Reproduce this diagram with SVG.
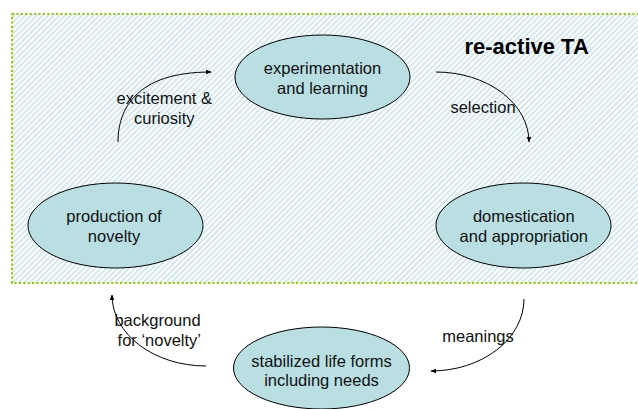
<svg xmlns="http://www.w3.org/2000/svg" width="638" height="409" viewBox="0 0 638 409">
  <defs>
    <pattern id="hatch" patternUnits="userSpaceOnUse" width="4" height="4" patternTransform="rotate(45)">
      <line x1="1" y1="0" x2="1" y2="4" stroke="#c8e3ea" stroke-width="1.6"/>
    </pattern>
    <marker id="arr" viewBox="0 0 10 10" refX="9" refY="5" markerWidth="6" markerHeight="6" markerUnits="userSpaceOnUse" orient="auto">
      <path d="M0,1 L10,5 L0,9 Z" fill="#000"/>
    </marker>
  </defs>
  <style>
    .node ellipse { fill: #b9dfe3; stroke: #000; stroke-width: 1; }
    text { font-family: "Liberation Sans", Arial, sans-serif; font-size: 16.5px; fill: #111; }
    .c { text-anchor: middle; }
    .title { font-weight: bold; font-size: 22px; fill: #000; }
    .conn path { fill: none; stroke: #000; stroke-width: 1; marker-end: url(#arr); }
  </style>
  <rect x="0" y="0" width="638" height="409" fill="#fff"/>
  <g id="region">
    <rect x="12" y="14" width="640" height="269" fill="url(#hatch)" stroke="#99cc00" stroke-width="2.2" stroke-dasharray="2.2,2.2"/>
    <text class="title" x="464.5" y="54">re-active TA</text>
  </g>
  <g class="conn" id="connectors">
    <path d="M118,142 C118,110 135,72 211,72"/>
    <path d="M436,72 A93,70 0 0 1 529,142"/>
    <path d="M524,299 A93,72 0 0 1 431,371"/>
    <path d="M206,366 A94,71 0 0 1 112,295"/>
  </g>
  <g id="labels">
    <text class="c" x="164.3" y="104">excitement &amp;</text>
    <text class="c" x="164.3" y="124">curiosity</text>
    <text class="c" x="483" y="113">selection</text>
    <text class="c" x="478" y="342">meanings</text>
    <text class="c" x="157.5" y="326">background</text>
    <text class="c" x="159.3" y="346">for ‘novelty’</text>
  </g>
  <g class="node" id="experimentation">
    <ellipse cx="322.5" cy="77" rx="87.5" ry="42"/>
    <text class="c" x="322.5" y="74">experimentation</text>
    <text class="c" x="322.5" y="94">and learning</text>
  </g>
  <g class="node" id="production">
    <ellipse cx="115.5" cy="225.5" rx="87.5" ry="42.5"/>
    <text class="c" x="114" y="222">production of</text>
    <text class="c" x="114" y="242">novelty</text>
  </g>
  <g class="node" id="domestication">
    <ellipse cx="523.5" cy="225.5" rx="87.5" ry="42.5"/>
    <text class="c" x="523.8" y="222">domestication</text>
    <text class="c" x="523.8" y="242">and appropriation</text>
  </g>
  <g class="node" id="stabilized">
    <ellipse cx="321.5" cy="368" rx="88" ry="41"/>
    <text class="c" x="321.5" y="367">stabilized life forms</text>
    <text class="c" x="321.5" y="386">including needs</text>
  </g>
</svg>
